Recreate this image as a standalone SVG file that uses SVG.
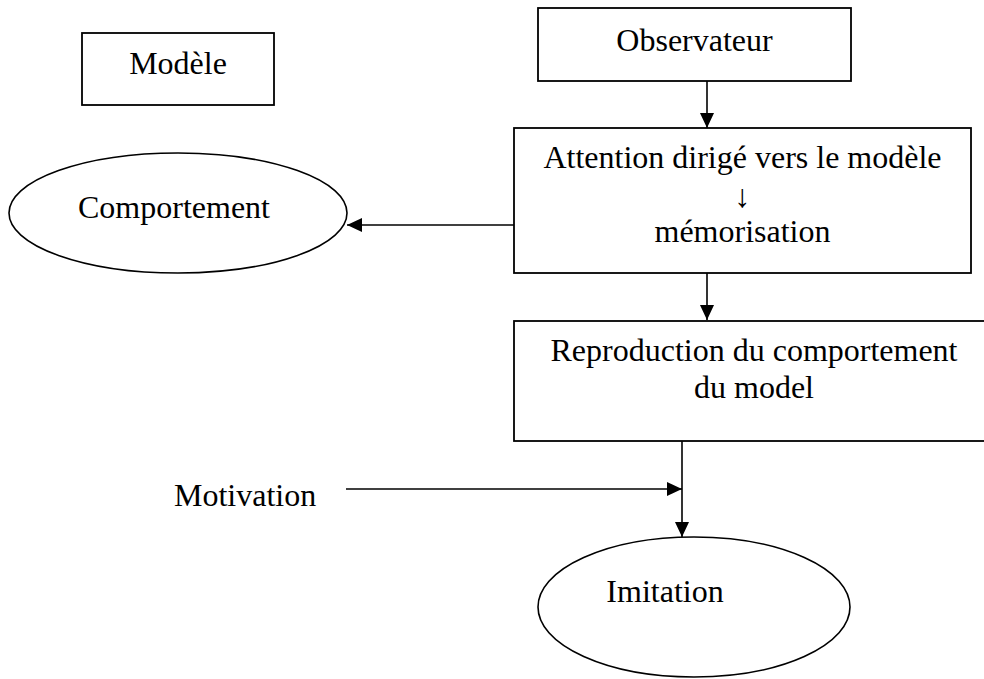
<svg xmlns="http://www.w3.org/2000/svg" width="984" height="679" viewBox="0 0 984 679">
<defs>
<style>
.box{fill:#fff;stroke:#000;stroke-width:1.8}
.ell{fill:#fff;stroke:#000;stroke-width:1.6}
.lbl{font-family:"Liberation Serif","Times New Roman",serif;font-size:32px;fill:#000}
.c{text-anchor:middle}
.edge{fill:none;stroke:#000;stroke-width:1.6}
</style>
<marker id="ah" markerUnits="userSpaceOnUse" markerWidth="15" markerHeight="14" refX="15" refY="7" orient="auto">
<path d="M0,0 L15,7 L0,14 Z" fill="#000"/>
</marker>
</defs>
<rect width="984" height="679" fill="#fff"/>
<g id="modele">
<rect class="box" x="82" y="33" width="192" height="72"/>
<text class="lbl c" x="178" y="74">Modèle</text>
</g>
<g id="observateur">
<rect class="box" x="538" y="8" width="313" height="73"/>
<text class="lbl c" x="694.5" y="51">Observateur</text>
</g>
<g id="attention">
<rect class="box" x="514" y="128" width="457" height="145"/>
<text class="lbl c" x="742.5" y="168">Attention dirigé vers le modèle</text>
<text class="lbl c" x="742.5" y="206.5">↓</text>
<text class="lbl c" x="742.5" y="242">mémorisation</text>
</g>
<g id="comportement">
<ellipse class="ell" cx="178" cy="213" rx="169" ry="60"/>
<text class="lbl c" x="174" y="218">Comportement</text>
</g>
<g id="reproduction">
<rect class="box" x="514" y="321" width="480" height="120"/>
<text class="lbl c" x="754" y="361">Reproduction du comportement</text>
<text class="lbl c" x="754" y="398">du model</text>
</g>
<g id="motivation">
<text class="lbl" x="174" y="506">Motivation</text>
</g>
<g id="imitation">
<ellipse class="ell" cx="694" cy="607" rx="156" ry="70"/>
<text class="lbl c" x="665" y="602">Imitation</text>
</g>
<g id="connectors">
<line class="edge" x1="707" y1="81" x2="707" y2="128" marker-end="url(#ah)"/>
<line class="edge" x1="514" y1="225" x2="347" y2="225" marker-end="url(#ah)"/>
<line class="edge" x1="707" y1="273" x2="707" y2="320" marker-end="url(#ah)"/>
<line class="edge" x1="682" y1="441" x2="682" y2="537" marker-end="url(#ah)"/>
<line class="edge" x1="346" y1="489" x2="682" y2="489" marker-end="url(#ah)"/>
</g>
</svg>
